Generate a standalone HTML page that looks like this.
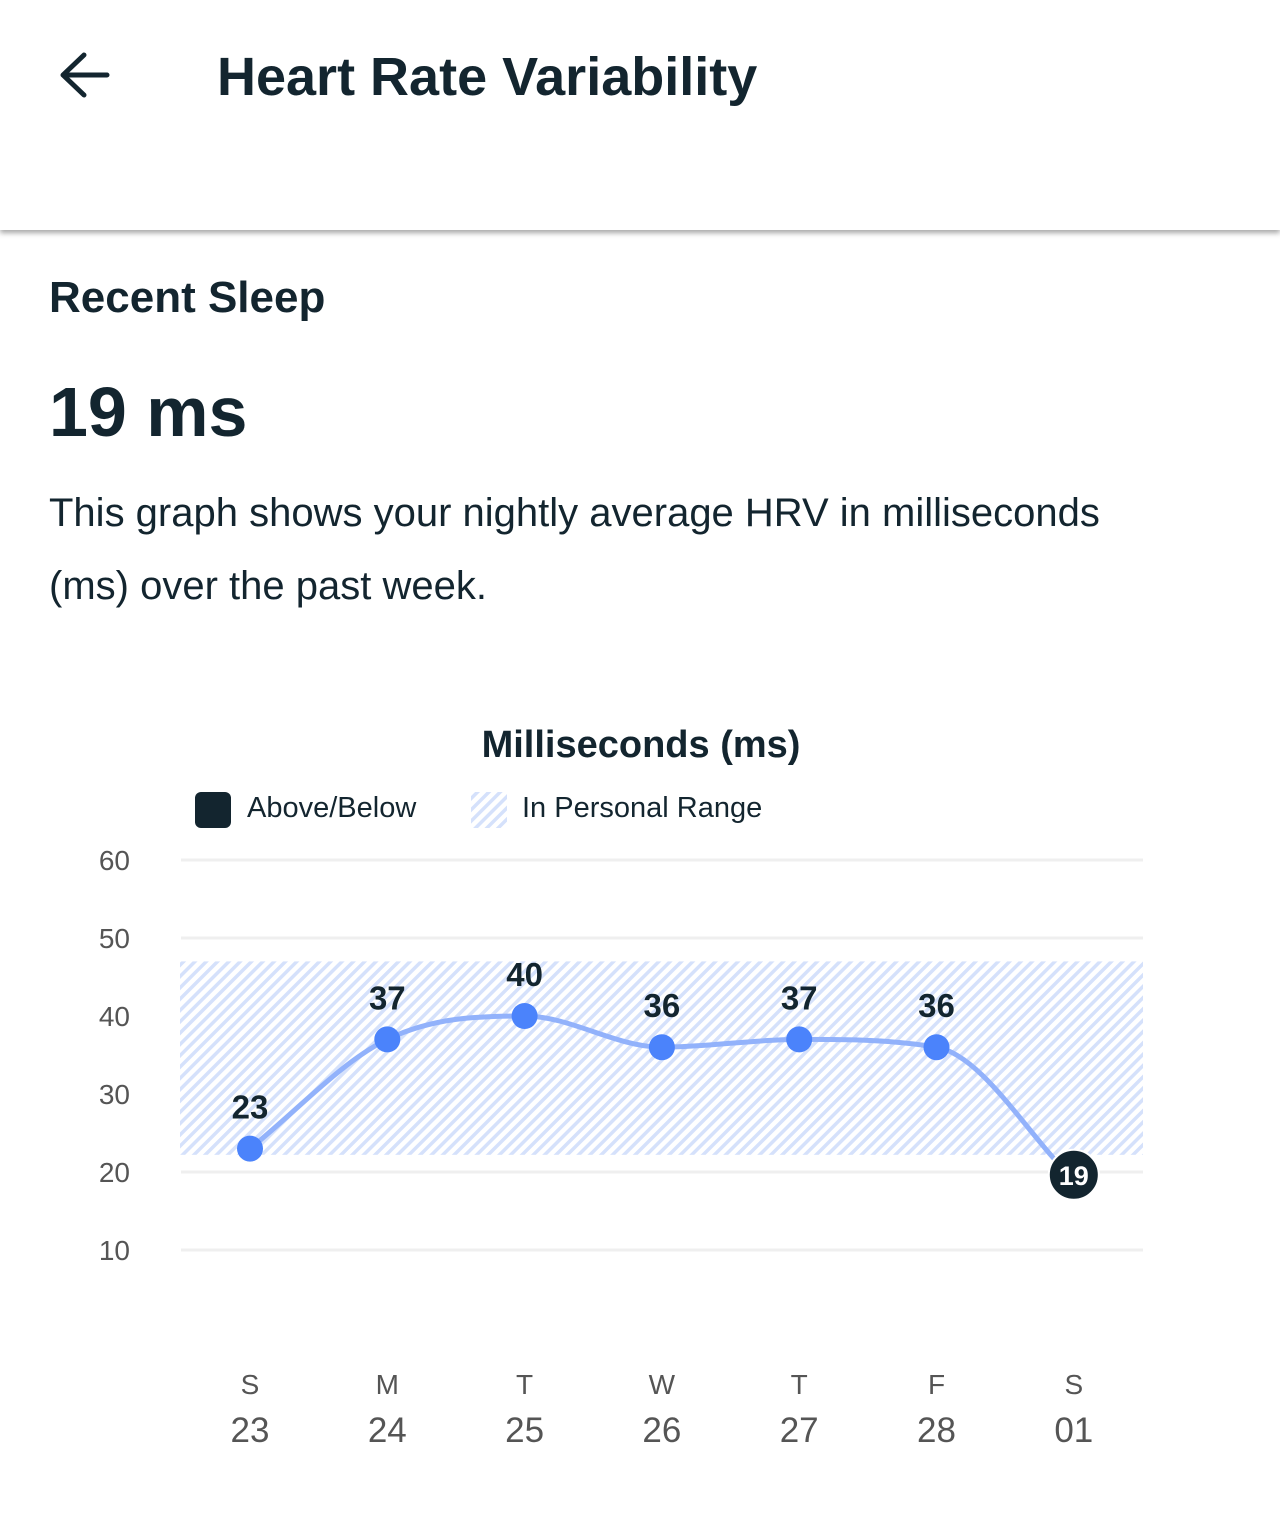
<!DOCTYPE html>
<html><head><meta charset="utf-8"><style>
body{margin:0;width:1280px;height:1537px;background:#fff;font-family:"Liberation Sans",sans-serif;color:#13252f;overflow:hidden;position:relative}
.abs{position:absolute}
</style></head><body>
<div class="abs" style="left:0;top:0;width:1280px;height:230px;background:#fff;box-shadow:0 3px 5px rgba(0,0,0,0.35)">
<svg class="abs" style="left:55px;top:48px" width="60" height="55" viewBox="0 0 60 55"><path d="M52 27H9M29 7L8 27l21 20" stroke="#13252f" stroke-width="5" fill="none" stroke-linecap="round" stroke-linejoin="round"/></svg>
<div class="abs" style="left:217px;top:46px;font-size:54px;font-weight:bold">Heart Rate Variability</div>
</div>
<div class="abs" style="left:49px;top:273px;font-size:44px;font-weight:bold">Recent Sleep</div>
<div class="abs" style="left:49px;top:372px;font-size:70px;font-weight:bold">19 ms</div>
<div class="abs" style="left:49px;top:477px;width:1120px;font-size:40px;line-height:73px">This graph shows your nightly average HRV in milliseconds (ms) over the past week.</div>
<svg class="abs" style="left:0;top:0" width="1280" height="1537" id="chart">
<defs><pattern id="hatch" patternUnits="userSpaceOnUse" width="8" height="8" patternTransform="rotate(45)"><rect width="8" height="8" fill="#fff"/><rect width="3.5" height="8" fill="#d5e1fb"/></pattern></defs>
<text x="641" y="757" text-anchor="middle" font-size="38" font-weight="bold" fill="#13252f">Milliseconds (ms)</text>
<rect x="195" y="792" width="36" height="36" rx="6" fill="#13252f"/>
<text x="247" y="817" font-size="29" fill="#13252f">Above/Below</text>
<rect x="471" y="792" width="36" height="36" fill="url(#hatch)"/>
<text x="522" y="817" font-size="29" fill="#13252f">In Personal Range</text>
<g id="plot"></g>
</svg>
<script>
const yTicks=[60,50,40,30,20,10];
const dows=["S","M","T","W","T","F","S"];
const dates=["23","24","25","26","27","28","01"];
const values=[23,37,40,36,37,36,19];
const rangeLow=[22.2];
const rangeHigh=[47];
const NS="http://www.w3.org/2000/svg";
const g=document.getElementById('plot');
const y=v=>1172-(v-20)*7.8;
const x=i=>250+i*137.3;
function mk(t,a,p){const e=document.createElementNS(NS,t);for(const k in a)e.setAttribute(k,a[k]);(p||g).appendChild(e);return e;}
yTicks.forEach(t=>{
 const l=mk('line',{x1:181,x2:1143,y1:y(t),y2:y(t),stroke:'#efefef','stroke-width':3});
 
 
 const tx=mk('text',{x:130,y:y(t)+10,'text-anchor':'end','font-size':28,fill:'#555'});tx.textContent=t;
 
 
});
const band=mk('rect',{x:180,y:y(rangeHigh[0]),width:963,height:y(rangeLow[0])-y(rangeHigh[0]),fill:'url(#hatch)'});


const pts=values.map((v,i)=>[x(i),y(v)]);
const n=pts.length,d=[],m=[];
for(let i=0;i<n-1;i++)d.push((pts[i+1][1]-pts[i][1])/(pts[i+1][0]-pts[i][0]));
for(let i=0;i<n;i++){if(i==0)m.push(d[0]);else if(i==n-1)m.push(d[n-2]);else m.push(d[i-1]*d[i]<=0?0:(d[i-1]+d[i])/2);}
for(let i=0;i<n-1;i++){if(d[i]==0){m[i]=m[i+1]=0;continue;}const a=m[i]/d[i],b=m[i+1]/d[i],s=a*a+b*b;if(s>9){const t=3/Math.sqrt(s);m[i]=t*a*d[i];m[i+1]=t*b*d[i];}}
let p='M'+pts[0];
for(let i=0;i<n-1;i++){const h=(pts[i+1][0]-pts[i][0])/3;p+=` C${pts[i][0]+h},${pts[i][1]+m[i]*h} ${pts[i+1][0]-h},${pts[i+1][1]-m[i+1]*h} ${pts[i+1][0]},${pts[i+1][1]}`;}
const line=mk('path',{d:p,fill:'none',stroke:'#92b2fb','stroke-width':5});


values.forEach((v,i)=>{
 const out=v<rangeLow[0]||v>rangeHigh[0];
 if(out){
  const c=mk('circle',{cx:x(i),cy:y(v)-5,r:25,fill:'#13252f',stroke:'#fff','stroke-width':2});
  
  
  const t=mk('text',{x:x(i),y:y(v)+5,'text-anchor':'middle','font-size':27,'font-weight':'bold',fill:'#fff'});t.textContent=v;
  
  
 }else{
  const c=mk('circle',{cx:x(i),cy:y(v),r:13,fill:'#4b83fb'});
  
  
  const t=mk('text',{x:x(i),y:y(v)-30,'text-anchor':'middle','font-size':33,'font-weight':'bold',fill:'#13252f'});t.textContent=v;
  
  
 }
 const a=mk('text',{x:x(i),y:1394,'text-anchor':'middle','font-size':28,fill:'#555'});a.textContent=dows[i];
 
 
 const b=mk('text',{x:x(i),y:1442,'text-anchor':'middle','font-size':35,fill:'#555'});b.textContent=dates[i];
 
 
});
</script>
</body></html>
